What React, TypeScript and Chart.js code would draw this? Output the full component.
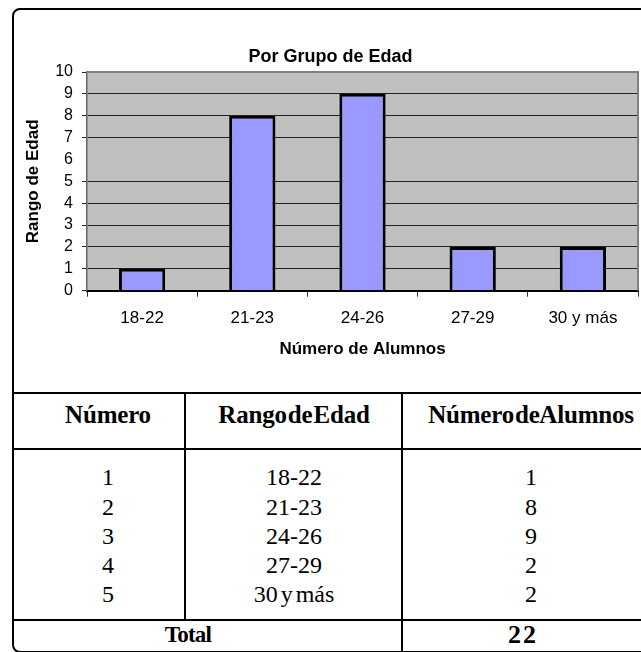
import React, { useEffect, useRef } from "react";
import { Chart, registerables } from "chart.js";

Chart.register(...registerables);

// ---- data ----
const categories = ["18-22", "21-23", "24-26", "27-29", "30 y más"];
const alumnos = [1, 8, 9, 2, 2];
const numeros = [1, 2, 3, 4, 5];
const yMin = 0;
const yMax = 10;
const yStep = 1;
const totalLabel = "Total";
const totalValue = "22";
const chartTitle = "Por Grupo de Edad";
const xTitle = "Número de Alumnos";
const yTitle = "Rango de Edad";
const tableHeaders = ["Número", "Rango de Edad", "Número de Alumnos"];

const SANS = "'Liberation Sans', Arial, sans-serif";
const SERIF = "'Liberation Serif', 'Times New Roman', serif";

const plotFrame = {
  id: "plotFrame",
  beforeDraw(chart: any) {
    const { ctx, chartArea: a } = chart;
    ctx.save();
    ctx.fillStyle = "#c0c0c0";
    ctx.fillRect(a.left, a.top, a.right - a.left, a.bottom - a.top);
    ctx.restore();
  },
  afterDraw(chart: any) {
    const { ctx, chartArea: a } = chart;
    ctx.save();
    ctx.strokeStyle = "#808080";
    ctx.lineWidth = 2;
    ctx.beginPath();
    ctx.moveTo(a.left, a.top);
    ctx.lineTo(a.right, a.top);
    ctx.lineTo(a.right, a.bottom);
    ctx.stroke();
    ctx.restore();
  },
};

function BarChart() {
  const ref = useRef<HTMLCanvasElement | null>(null);
  useEffect(() => {
    if (!ref.current) return;
    Chart.defaults.font.family = SANS;
    const chart = new Chart(ref.current, {
      type: "bar",
      data: {
        labels: categories,
        datasets: [
          {
            data: alumnos,
            backgroundColor: "#9999ff",
            borderColor: "#000000",
            borderWidth: 3,
            barPercentage: 0.42,
            categoryPercentage: 1.0,
          },
        ],
      },
      options: {
        responsive: false,
        animation: false,
        layout: { padding: { left: 8, right: 3, top: 36, bottom: 30.8 } },
        plugins: {
          legend: { display: false },
          tooltip: { enabled: false },
          title: {
            display: true,
            text: chartTitle,
            color: "#000",
            font: { family: SANS, size: 18, weight: "bold" },
            padding: { top: 0, bottom: 4.4 },
          },
        },
        scales: {
          x: {
            grid: {
              display: true,
              drawOnChartArea: false,
              drawTicks: true,
              tickLength: 6,
              color: "#333",
              offset: true,
            },
            border: { color: "#000", width: 2 },
            ticks: {
              color: "#000",
              font: { family: SANS, size: 17 },
              padding: 11.6,
            },
            title: {
              display: true,
              text: xTitle,
              color: "#000",
              font: { family: SANS, size: 17, weight: "bold" },
              padding: { top: -1.5, bottom: 0 },
            },
          },
          y: {
            min: yMin,
            max: yMax,
            ticks: {
              stepSize: yStep,
              autoSkip: false,
              color: "#000",
              font: { family: SANS, size: 16 },
              padding: 9,
            },
            grid: {
              color: (c: any) =>
                c.tick && c.tick.value === 6 ? "rgba(0,0,0,0)" : "#222",
              tickLength: 5,
              lineWidth: 1,
            },
            border: { color: "#666", width: 1.5 },
            title: {
              display: true,
              text: yTitle,
              color: "#000",
              font: { family: SANS, size: 17, weight: "bold" },
              padding: { top: 0, bottom: 0 },
            },
            afterFit: (s: any) => {
              s.width = 64;
            },
          },
        },
      },
      plugins: [plotFrame],
    } as any);
    return () => chart.destroy();
  }, []);
  return (
    <canvas
      ref={ref}
      width={626}
      height={380}
      style={{ position: "absolute", left: 15, top: 10, width: 626, height: 380 }}
    />
  );
}

const line = (left: number, top: number, width: number, height: number): React.CSSProperties => ({
  position: "absolute",
  left,
  top,
  width,
  height,
  background: "#000",
});

const cell = (center: number, top: number, width: number): React.CSSProperties => ({
  position: "absolute",
  left: center - width / 2,
  top,
  width,
  textAlign: "center",
  whiteSpace: "nowrap",
});

export default function App() {
  const colCenters = [108, 294, 531];
  const headerStyle: React.CSSProperties = {
    fontFamily: SERIF,
    fontWeight: "bold",
    fontSize: 25,
    lineHeight: "30px",
    wordSpacing: -5,
    letterSpacing: -0.2,
  };
  const bodyStyle: React.CSSProperties = {
    fontFamily: SERIF,
    fontSize: 24,
    lineHeight: "29.25px",
    wordSpacing: -3,
  };
  return (
    <div
      style={{
        position: "fixed",
        left: 0,
        top: 0,
        width: 641,
        height: 652,
        overflow: "hidden",
        background: "#fff",
      }}
    >
      <div
        style={{
          position: "absolute",
          left: 12,
          top: 8,
          width: 700,
          height: 645,
          border: "2px solid #000",
          borderRadius: 8,
          boxSizing: "border-box",
        }}
      />
      <BarChart />
      {/* table lines */}
      <div style={line(12, 392, 700, 2)} />
      <div style={line(12, 448, 700, 2)} />
      <div style={line(12, 619, 700, 2)} />
      <div style={line(184, 392, 2, 228)} />
      <div style={line(401, 392, 2, 270)} />
      {/* header */}
      {tableHeaders.map((h, i) => (
        <div key={h} style={{ ...cell(colCenters[i], 400.3, 240), ...headerStyle }}>
          {h}
        </div>
      ))}
      {/* body */}
      <div style={{ ...cell(colCenters[0], 463.4, 150), ...bodyStyle }}>
        {numeros.map((n) => (
          <div key={n}>{n}</div>
        ))}
      </div>
      <div style={{ ...cell(colCenters[1], 463.4, 200), ...bodyStyle }}>
        {categories.map((c) => (
          <div key={c}>{c}</div>
        ))}
      </div>
      <div style={{ ...cell(colCenters[2], 463.4, 200), ...bodyStyle }}>
        {alumnos.map((v, i) => (
          <div key={i}>{v}</div>
        ))}
      </div>
      {/* total */}
      <div
        style={{
          ...cell(188, 619, 200),
          fontFamily: SERIF,
          fontWeight: "bold",
          fontSize: 23,
          lineHeight: "32px",
          letterSpacing: -0.8,
        }}
      >
        {totalLabel}
      </div>
      <div
        style={{
          ...cell(523, 619, 100),
          fontFamily: SERIF,
          fontWeight: "bold",
          fontSize: 26,
          lineHeight: "32px",
          letterSpacing: 2,
        }}
      >
        {totalValue}
      </div>
    </div>
  );
}
